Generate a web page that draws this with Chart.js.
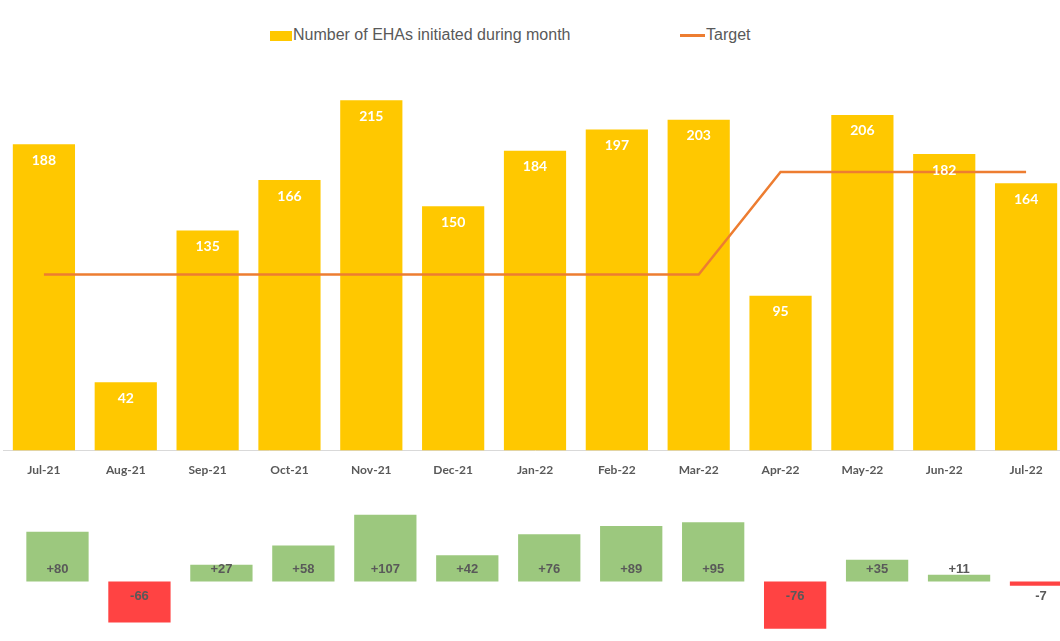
<!DOCTYPE html>
<html>
<head>
<meta charset="utf-8">
<script src="https://cdn.jsdelivr.net/npm/chart.js@4.4.1/dist/chart.umd.min.js"></script>
<style>
  html, body { margin: 0; padding: 0; background: #fff; overflow: hidden; width: 1060px; height: 641px; }
  #wrap { position: relative; width: 1060px; height: 641px; overflow: hidden; }
  .box { position: absolute; left: 0; }
  #top { top: 0; width: 1070px; height: 490px; }
  #bottom { top: 500px; width: 1085px; height: 150px; }
  #legend { position: absolute; top: 25px; left: 270px; font: 16px "Liberation Sans", Arial, sans-serif; color: #595959; }
  #legend span { position: absolute; white-space: nowrap; top: 0; line-height: 20px; }
  .swatch { display: inline-block; vertical-align: middle; }
</style>
</head>
<body>
<div id="wrap">
  <div id="legend">
    <span style="left:0"><i class="swatch" style="width:22px;height:10px;background:#FFC800;margin-right:1px;"></i>Number of EHAs initiated during month</span>
    <span style="left:410px"><i class="swatch" style="width:25px;height:3px;background:#ED7D31;margin-right:1px;"></i>Target</span>
  </div>
  <div class="box" id="top"><canvas id="mainChart"></canvas></div>
  <div class="box" id="bottom"><canvas id="diffChart"></canvas></div>
</div>
<script>
const months = ["Jul-21", "Aug-21", "Sep-21", "Oct-21", "Nov-21", "Dec-21", "Jan-22", "Feb-22", "Mar-22", "Apr-22", "May-22", "Jun-22", "Jul-22"]
const ehas = [188, 42, 135, 166, 215, 150, 184, 197, 203, 95, 206, 182, 164]
const target = [108, 108, 108, 108, 108, 108, 108, 108, 108, 171, 171, 171, 171]
const diffs = [80, -66, 27, 58, 107, 42, 76, 89, 95, -76, 35, 11, -7]

const GOLD = "#FFC800"
const ORANGE = "#ED7D31"
const GREEN = "#9CC87E"
const RED = "#FF4343"

// value labels, placed relative to each bar element (drawn after the line)
const barLabels = {
  id: "barLabels",
  afterDatasetsDraw(chart, args, opts) {
    const { ctx } = chart
    const idx = opts.dataset || 0
    const values = chart.data.datasets[idx].data
    const zero = chart.scales.y.getPixelForValue(0)
    ctx.save()
    ctx.font = opts.font
    ctx.fillStyle = opts.color
    ctx.textAlign = "center"
    ctx.textBaseline = "middle"
    chart.getDatasetMeta(idx).data.forEach((bar, i) => {
      const v = values[i]
      let y
      if (opts.mode === "top") y = bar.y + 16
      else y = v >= 0 ? zero - 12 : zero + 15
      ctx.fillText(opts.format(v), bar.x, y)
    })
    ctx.restore()
  }
}

new Chart(document.getElementById("mainChart"), {
  type: "bar",
  data: {
    labels: months,
    datasets: [
      {
        type: "line",
        label: "Target",
        data: target,
        borderColor: ORANGE,
        borderWidth: 2.5,
        pointRadius: 0,
        tension: 0,
        order: 0
      },
      {
        label: "Number of EHAs initiated during month",
        data: ehas,
        backgroundColor: GOLD,
        borderWidth: 0,
        barPercentage: 0.76,
        categoryPercentage: 1,
        order: 1
      }
    ]
  },
  options: {
    responsive: true,
    maintainAspectRatio: false,
    animation: false,
    layout: { padding: { top: 59.5, left: 3, right: 3, bottom: 1 } },
    plugins: {
      legend: { display: false },
      tooltip: { enabled: false },
      barLabels: {
        dataset: 1,
        mode: "top",
        font: "bold 14px Lato, 'Open Sans', sans-serif",
        color: "#ffffff",
        format: v => String(v)
      }
    },
    scales: {
      x: {
        grid: { display: false, drawTicks: false },
        border: { display: true, color: "#D9D9D9", width: 1 },
        ticks: { padding: 12, color: "#595959", font: { family: "Lato", size: 12, weight: "bold" } }
      },
      y: { display: false, min: 0, max: 240 }
    }
  },
  plugins: [barLabels]
})

new Chart(document.getElementById("diffChart"), {
  type: "bar",
  data: {
    labels: months,
    datasets: [{
      data: diffs,
      backgroundColor: diffs.map(d => d >= 0 ? GREEN : RED),
      borderWidth: 0,
      barPercentage: 0.76,
      categoryPercentage: 1
    }]
  },
  options: {
    responsive: true,
    maintainAspectRatio: false,
    animation: false,
    layout: { padding: { top: 13, left: 16.5, right: 3, bottom: 0 } },
    plugins: {
      legend: { display: false },
      tooltip: { enabled: false },
      barLabels: {
        mode: "split",
        font: "bold 13px 'Liberation Sans', Arial, sans-serif",
        color: "#595959",
        format: v => (v > 0 ? "+" : "") + v
      }
    },
    scales: {
      x: { display: false },
      y: { display: false, min: -110, max: 110 }
    }
  },
  plugins: [barLabels]
})
</script>
</body>
</html>
